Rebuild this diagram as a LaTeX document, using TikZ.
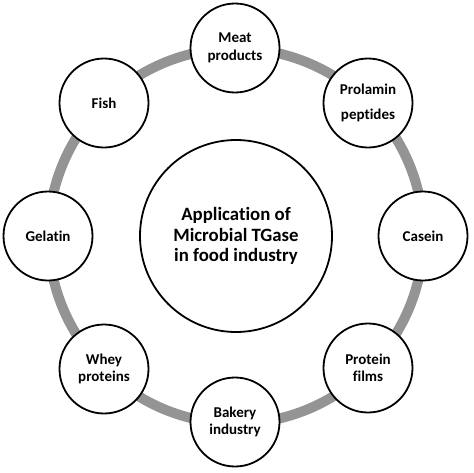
\documentclass[tikz,border=0pt]{standalone}
\usepackage{fontspec}
\setmainfont[Ligatures=NoCommon]{Carlito}
\begin{document}
\begin{tikzpicture}[x=1pt,y=-1pt,
  item/.style={circle,draw=black,line width=1.8pt,fill=white,minimum size=89pt,inner sep=0pt,align=center,font=\bfseries\fontsize{15}{17.5}\selectfont},
  hub/.style={circle,draw=black,line width=1.8pt,fill=white,minimum size=192pt,inner sep=0pt,align=center,font=\bfseries\fontsize{18.8}{20.5}\selectfont},
  ring/.style={draw=black!42,line width=10pt}]
\useasboundingbox (0,0) rectangle (474,472);
\coordinate (c) at (236,236);
\draw[ring] (c) circle[radius=187.5];
\node[hub] (hub) at (c) {Application of\\Microbial TGase\\in food industry};
\node[item] (meat) at (235,48) {Meat\\products};
\node[item,font=\bfseries\fontsize{15}{25}\selectfont] (prol) at (368,103) {Prolamin\\peptides};
\node[item] (cas) at (423,236) {Casein};
\node[item] (film) at (368,368) {Protein\\films};
\node[item] (bak) at (235,422) {Bakery\\industry};
\node[item] (whey) at (104,369) {Whey\\proteins};
\node[item] (gel) at (48,236) {Gelatin};
\node[item] (fish) at (104,103) {Fish};
\end{tikzpicture}
\end{document}
